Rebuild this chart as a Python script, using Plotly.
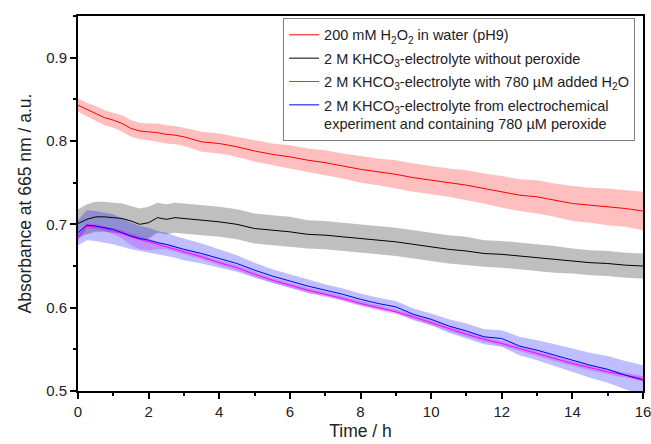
import plotly.graph_objects as go

# Time axis (h)
time_h = [0, 0.25, 0.5, 0.75, 1, 1.25, 1.5, 1.75, 2, 2.25, 2.5, 2.75, 3,
          3.5, 4, 4.5, 5, 5.5, 6, 6.5, 7, 7.5, 8, 8.5, 9, 9.5, 10, 10.5,
          11, 11.5, 12, 12.5, 13, 13.5, 14, 14.5, 15, 15.5, 16]

# 200 mM H2O2 in water (pH9)
red_y = [0.843, 0.838, 0.833, 0.828, 0.825, 0.821, 0.815, 0.812, 0.811, 0.810, 0.808, 0.807, 0.805,
         0.799, 0.797, 0.793, 0.788, 0.784, 0.781, 0.777, 0.774, 0.770, 0.766, 0.763, 0.760, 0.756,
         0.753, 0.750, 0.747, 0.743, 0.739, 0.735, 0.733, 0.729, 0.725, 0.723, 0.721, 0.719, 0.716]
red_err = [0.008, 0.008, 0.009, 0.009, 0.009, 0.010, 0.010, 0.010, 0.010, 0.011, 0.011, 0.011, 0.011,
           0.012, 0.012, 0.012, 0.013, 0.013, 0.014, 0.014, 0.015, 0.015, 0.016, 0.016, 0.017, 0.017,
           0.017, 0.017, 0.018, 0.018, 0.019, 0.019, 0.020, 0.020, 0.021, 0.021, 0.022, 0.022, 0.023]

# 2 M KHCO3 without peroxide
black_y = [0.701, 0.706, 0.709, 0.709, 0.708, 0.707, 0.704, 0.700, 0.702, 0.708, 0.706, 0.708, 0.707,
           0.705, 0.703, 0.700, 0.695, 0.693, 0.691, 0.688, 0.687, 0.685, 0.683, 0.681, 0.679, 0.676,
           0.673, 0.670, 0.668, 0.665, 0.664, 0.662, 0.660, 0.658, 0.656, 0.654, 0.653, 0.651, 0.650]
black_err = [0.017, 0.018, 0.018, 0.018, 0.018, 0.018, 0.018, 0.019, 0.019, 0.018, 0.018, 0.018, 0.018,
             0.018, 0.018, 0.018, 0.018, 0.018, 0.018, 0.017, 0.017, 0.017, 0.017, 0.017, 0.017, 0.017,
             0.017, 0.017, 0.017, 0.016, 0.016, 0.016, 0.016, 0.016, 0.015, 0.015, 0.015, 0.015, 0.015]

# 2 M KHCO3 with 780 uM added H2O2
mag_y = [0.684, 0.698, 0.697, 0.695, 0.692, 0.689, 0.685, 0.682, 0.679, 0.676, 0.673, 0.670, 0.667,
         0.661, 0.654, 0.648, 0.640, 0.633, 0.627, 0.621, 0.616, 0.611, 0.605, 0.600, 0.595, 0.589,
         0.582, 0.575, 0.568, 0.562, 0.557, 0.551, 0.545, 0.539, 0.533, 0.528, 0.523, 0.519, 0.515]
mag_err_up = [0.003, 0.003, 0.003, 0.003, 0.003, 0.004, 0.004, 0.004, 0.004, 0.003, 0.003, 0.003, 0.003,
              0.003, 0.003, 0.003, 0.003, 0.003, 0.003, 0.003, 0.003, 0.003, 0.003, 0.003, 0.003, 0.003,
              0.003, 0.003, 0.003, 0.003, 0.003, 0.003, 0.003, 0.003, 0.003, 0.003, 0.003, 0.003, 0.003]
mag_err_dn = [0.004, 0.003, 0.003, 0.003, 0.004, 0.006, 0.010, 0.012, 0.010, 0.006, 0.003, 0.003, 0.003,
              0.003, 0.003, 0.003, 0.003, 0.003, 0.003, 0.003, 0.003, 0.003, 0.003, 0.003, 0.003, 0.003,
              0.003, 0.003, 0.003, 0.003, 0.003, 0.003, 0.003, 0.003, 0.003, 0.003, 0.003, 0.003, 0.003]

# 2 M KHCO3 from electrochemical experiment
blue_y = [0.690, 0.699, 0.698, 0.696, 0.694, 0.690, 0.686, 0.683, 0.681, 0.678, 0.676, 0.673, 0.670,
          0.665, 0.659, 0.653, 0.645, 0.638, 0.632, 0.626, 0.621, 0.616, 0.610, 0.605, 0.601, 0.592,
          0.586, 0.578, 0.572, 0.565, 0.563, 0.554, 0.549, 0.543, 0.537, 0.531, 0.526, 0.519, 0.513]
blue_err = [0.015, 0.018, 0.018, 0.018, 0.018, 0.017, 0.016, 0.015, 0.015, 0.014, 0.014, 0.013, 0.013,
            0.012, 0.011, 0.010, 0.009, 0.008, 0.008, 0.008, 0.007, 0.007, 0.007, 0.007, 0.007, 0.007,
            0.007, 0.008, 0.009, 0.009, 0.010, 0.011, 0.012, 0.013, 0.014, 0.015, 0.016, 0.017, 0.018]

legend_names = [
    "200 mM H<sub>2</sub>O<sub>2</sub> in water (pH9)",
    "2 M KHCO<sub>3</sub>-electrolyte without peroxide",
    "2 M KHCO<sub>3</sub>-electrolyte with 780 µM added H<sub>2</sub>O",
    "2 M KHCO<sub>3</sub>-electrolyte from electrochemical<br>experiment and containing 780 µM peroxide",
]

x_ticks = [0, 2, 4, 6, 8, 10, 12, 14, 16]
y_ticks = [0.5, 0.6, 0.7, 0.8, 0.9]

FONT = "Arial, Liberation Sans, sans-serif"
TXT = "#222"

fig = go.Figure()


def band(y, up, dn, color):
    upper = [a + b for a, b in zip(y, up)]
    lower = [a - b for a, b in zip(y, dn)]
    fig.add_trace(go.Scatter(
        x=time_h + time_h[::-1], y=upper + lower[::-1],
        fill="toself", fillcolor=color, line=dict(width=0),
        mode="lines", showlegend=False, hoverinfo="skip"))


band(red_y, red_err, red_err, "rgba(255,0,0,0.25)")
band(black_y, black_err, black_err, "rgba(0,0,0,0.25)")
band(mag_y, mag_err_up, mag_err_dn, "rgba(255,0,255,0.25)")
band(blue_y, blue_err, blue_err, "rgba(0,0,255,0.25)")

for i, (ys, col, name) in enumerate([(red_y, "#ff0000", legend_names[0]),
                                     (black_y, "#000000", legend_names[1]),
                                     (mag_y, "#ff00ff", legend_names[2]),
                                     (blue_y, "#0000ff", legend_names[3])]):
    fig.add_trace(go.Scatter(x=time_h, y=ys, mode="lines", legendgroup=f"g{i}",
                             line=dict(color=col, width=1), name=name))

axis_common = dict(
    showline=True, linecolor="black", linewidth=2, mirror=True,
    ticks="outside", ticklen=6, tickwidth=2, tickcolor="black",
    showgrid=False, zeroline=False, automargin=False,
    ticklabeloverflow="allow",
    tickfont=dict(family=FONT, size=15, color=TXT),
)

fig.update_xaxes(range=[0, 16], tickvals=x_ticks,
                 minor=dict(dtick=1, ticks="outside", ticklen=3, tickwidth=2, tickcolor="black"),
                 title=dict(text="Time / h", font=dict(family=FONT, size=17.5, color=TXT), standoff=6),
                 **axis_common)
fig.update_yaxes(range=[0.5, 0.95], tickvals=y_ticks, tickformat=".1f",
                 minor=dict(dtick=0.05, ticks="outside", ticklen=3, tickwidth=2, tickcolor="black"),
                 title=dict(text="Absorbance at 665 nm / a.u.", font=dict(family=FONT, size=17.5, color=TXT), standoff=10),
                 **axis_common)

fig.update_layout(
    width=651, height=444,
    margin=dict(l=78, r=8, t=16, b=53),
    plot_bgcolor="white", paper_bgcolor="white",
    font=dict(family=FONT, size=14.5, color=TXT),
    legend=dict(x=0.363, y=0.995, xanchor="left", yanchor="top",
                bgcolor="white", bordercolor="#808080", borderwidth=1,
                font=dict(family=FONT, size=14.5, color=TXT),
                valign="top", tracegroupgap=1.5),
)

fig.write_html("out.html", config={"displayModeBar": False},
               post_script="document.body.style.margin='0';")
